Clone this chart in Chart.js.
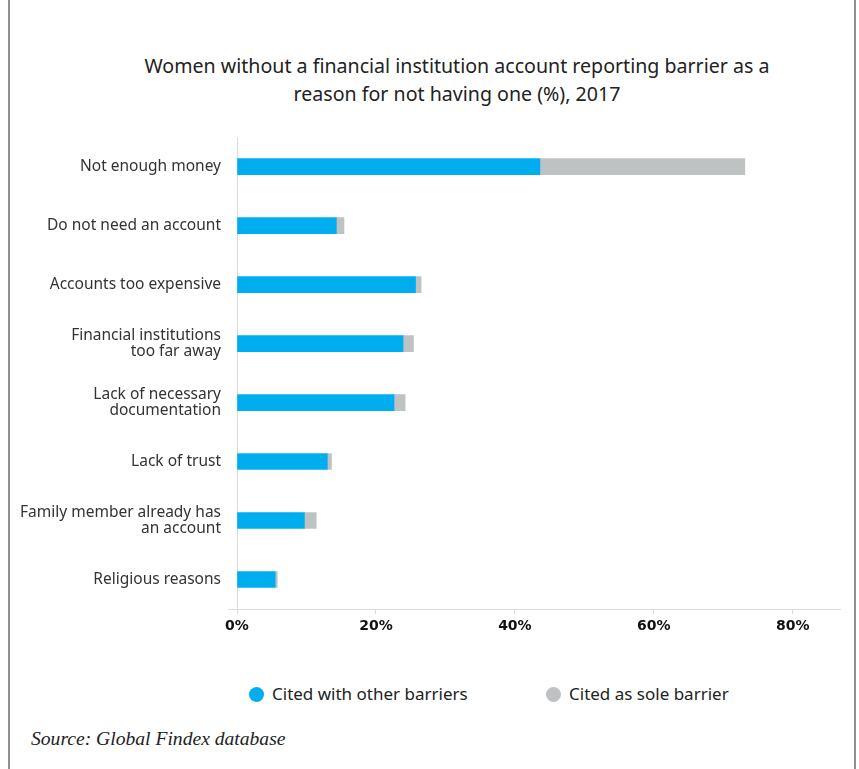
<!DOCTYPE html>
<html>
<head>
<meta charset="utf-8">
<script src="https://cdn.jsdelivr.net/npm/chart.js@4"></script>
<style>
  body { margin: 0; background: #fff; }
  .container { position: relative; width: 859px; height: 769px; overflow: hidden; background: #fff; }
  .frame { position: absolute; top: 0; bottom: 0; width: 2px; background: #8f8f8f; }
  .title {
    position: absolute; left: 50px; width: 814px; top: 52px;
    text-align: center; font-family: "Noto Sans", sans-serif; font-size: 19.6px;
    line-height: 28px; color: #222;
  }
  #barrier-chart { position: absolute; left: 0; top: 122px; }
  .legend { position: absolute; top: 683px; left: 0; width: 859px; height: 22px;
    font-family: "Noto Sans", sans-serif; font-size: 17px; color: #222; }
  .legend-item { position: absolute; top: 0; line-height: 22px; white-space: nowrap; }
  .legend-item .dot { display: inline-block; width: 15px; height: 15px; border-radius: 50%;
    vertical-align: -2px; margin-right: 8px; }
  .source { position: absolute; left: 31px; top: 728px; font-family: "Liberation Serif", serif;
    font-style: italic; font-size: 19.6px; color: #222; }
</style>
</head>
<body>
<div class="container">
  <div class="frame" style="left: 8px;"></div>
  <div class="frame" style="left: 854px;"></div>
  <div class="title">Women without a financial institution account reporting barrier as a<br>reason for not having one (%), 2017</div>
  <canvas id="barrier-chart" width="859" height="528"></canvas>
  <div class="legend" id="legend"></div>
  <div class="source">Source: Global Findex database</div>
</div>
<script>
const categories = [
  "Not enough money",
  "Do not need an account",
  "Accounts too expensive",
  ["Financial institutions", "too far away"],
  ["Lack of necessary", "documentation"],
  "Lack of trust",
  ["Family member already has", "an account"],
  "Religious reasons",
];
// percent of women without an account, split by how the barrier was cited
const citedWithOther = [43.6, 14.3, 25.7, 23.9, 22.6, 13.0, 9.7, 5.5];
const citedSole = [29.5, 1.1, 0.8, 1.5, 1.6, 0.6, 1.7, 0.3];
const xTickValues = [0, 20, 40, 60, 80];
const seriesNames = ["Cited with other barriers", "Cited as sole barrier"];

const BLUE = "#00aeef";
const GREY = "#bfc2c3";
const AXIS = "#dcdcdc";

const ctx = document.getElementById("barrier-chart").getContext("2d");

const chart = new Chart(ctx, {
  type: "bar",
  data: {
    labels: categories,
    datasets: [
      { label: seriesNames[0], data: citedWithOther, backgroundColor: BLUE, barThickness: 16 },
      { label: seriesNames[1], data: citedSole, backgroundColor: GREY, barThickness: 16 },
    ],
  },
  options: {
    indexAxis: "y",
    responsive: false,
    animation: false,
    layout: { padding: { top: 7, right: 19, left: 0, bottom: 0 } },
    plugins: {
      legend: { display: false },
      tooltip: { enabled: false },
    },
    scales: {
      x: {
        stacked: true,
        min: 0,
        max: 86.8,
        afterBuildTicks: (scale) => {
          scale.ticks = xTickValues.map((v) => ({ value: v }));
        },
        afterFit: (scale) => {
          scale.height = 41;
        },
        border: { display: true, color: AXIS, width: 1 },
        grid: { drawOnChartArea: false, drawTicks: true, tickLength: 5, color: AXIS },
        ticks: {
          padding: 4,
          color: "#111",
          font: { family: "DejaVu Sans", size: 14, weight: "bold" },
          callback: (value) => value + "%",
        },
      },
      y: {
        stacked: true,
        afterFit: (scale) => {
          scale.width = 237;
        },
        border: { display: true, color: AXIS, width: 1 },
        // only the bottom boundary line is shown, so the x axis runs a bit past the y axis
        grid: {
          tickLength: 9,
          color: (c) => (c.tick ? "rgba(0,0,0,0)" : AXIS),
        },
        ticks: {
          padding: 7,
          color: "#333",
          font: { family: "Noto Sans", size: 15.5, lineHeight: 1.05 },
        },
      },
    },
  },
});

// Legend
const legend = document.getElementById("legend");
const legendLeft = [249, 546];
chart.data.datasets.forEach((ds, i) => {
  const item = document.createElement("div");
  item.className = "legend-item";
  item.style.left = legendLeft[i] + "px";
  const dot = document.createElement("span");
  dot.className = "dot";
  dot.style.background = ds.backgroundColor;
  item.appendChild(dot);
  item.appendChild(document.createTextNode(ds.label));
  legend.appendChild(item);
});
</script>
</body>
</html>
